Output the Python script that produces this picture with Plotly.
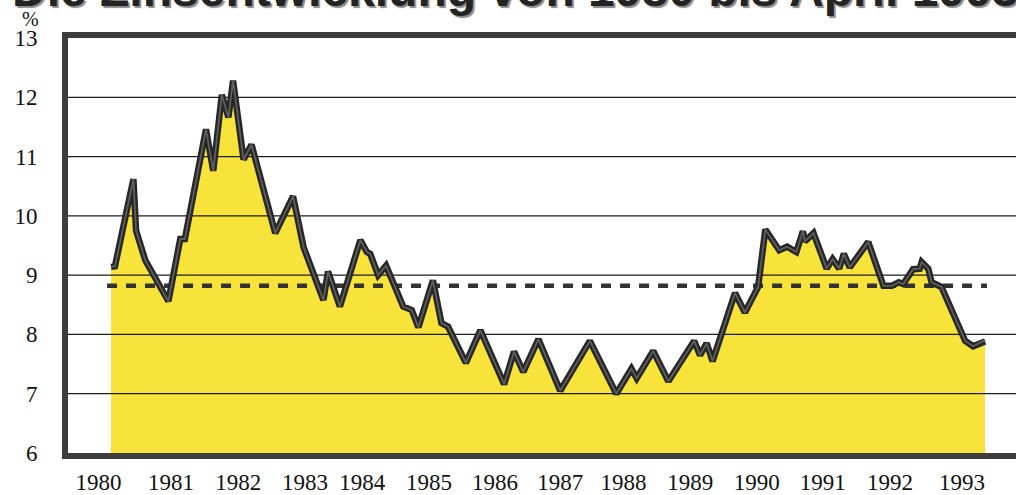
import plotly.graph_objects as go

# ---- data ----
dates = [1980.00, 1980.06, 1980.34, 1980.38, 1980.52, 1980.87, 1981.05, 1981.12, 1981.44, 1981.55,
         1981.68, 1981.78, 1981.85, 1982.01, 1982.13, 1982.49, 1982.76, 1982.92, 1983.22, 1983.29,
         1983.47, 1983.78, 1983.88, 1983.93, 1984.05, 1984.17, 1984.43, 1984.56, 1984.66, 1984.88,
         1985.01, 1985.11, 1985.38, 1985.60, 1985.96, 1986.11, 1986.25, 1986.48, 1986.81, 1987.26,
         1987.66, 1987.89, 1987.97, 1988.22, 1988.45, 1988.84, 1988.93, 1989.03, 1989.12, 1989.46,
         1989.61, 1989.81, 1989.92, 1990.13, 1990.25, 1990.39, 1990.49, 1990.52, 1990.65, 1990.85,
         1990.94, 1991.04, 1991.11, 1991.20, 1991.48, 1991.71, 1991.84, 1991.94, 1992.01, 1992.16,
         1992.26, 1992.29, 1992.39, 1992.44, 1992.59, 1992.95, 1993.07, 1993.24, 1993.25]
rates = [9.14, 9.15, 10.62, 9.75, 9.25, 8.56, 9.61, 9.61, 11.46, 10.76,
         12.04, 11.66, 12.28, 10.95, 11.20, 9.71, 10.33, 9.47, 8.58, 9.06,
         8.47, 9.59, 9.39, 9.36, 9.00, 9.16, 8.47, 8.41, 8.12, 8.91,
         8.19, 8.13, 7.52, 8.07, 7.16, 7.71, 7.37, 7.92, 7.05, 7.89,
         7.00, 7.42, 7.26, 7.72, 7.21, 7.89, 7.65, 7.85, 7.55, 8.70,
         8.37, 8.80, 9.77, 9.42, 9.48, 9.39, 9.74, 9.57, 9.71, 9.11,
         9.27, 9.11, 9.36, 9.13, 9.56, 8.82, 8.82, 8.88, 8.85, 9.10,
         9.11, 9.22, 9.11, 8.88, 8.80, 7.89, 7.80, 7.90, 7.88]

average_rate = 8.82
average_span = [1979.94, 1993.28]

year_labels = ["1980", "1981", "1982", "1983", "1984", "1985", "1986",
               "1987", "1988", "1989", "1990", "1991", "1992", "1993"]
year_label_pos = [1979.81, 1980.91, 1981.93, 1982.94, 1983.81, 1984.82, 1985.82,
                  1986.81, 1987.77, 1988.78, 1989.79, 1990.79, 1991.81, 1992.90]
y_ticks = [6, 7, 8, 9, 10, 11, 12, 13]

title_text = "Die Zinsentwicklung von 1980 bis April 1993"
unit_text = "%"

# ---- figure ----
X_RANGE = [1979.348, 1993.72]
Y_RANGE = [6, 13]
serif = "Liberation Serif, Times New Roman, serif"

fig = go.Figure()

# yellow area
fig.add_trace(go.Scatter(x=dates, y=rates, mode="lines", line=dict(width=0),
                         fill="tozeroy", fillcolor="#F8E33A", hoverinfo="skip"))

# horizontal rules (drawn above the fill)
for v in y_ticks[1:-1]:
    fig.add_trace(go.Scatter(x=X_RANGE, y=[v, v], mode="lines",
                             line=dict(color="#1c1c1c", width=1.3), hoverinfo="skip"))

# dashed average line
fig.add_trace(go.Scatter(x=average_span, y=[average_rate, average_rate], mode="lines",
                         line=dict(color="#333333", width=4.5, dash="10px,9px"),
                         hoverinfo="skip"))

# main line: dark outline with grey core
fig.add_trace(go.Scatter(x=dates, y=rates, mode="lines",
                         line=dict(color="#262626", width=6.5), hoverinfo="skip"))
fig.add_trace(go.Scatter(x=dates, y=rates, mode="lines",
                         line=dict(color="#5e5e5e", width=1.8), hoverinfo="skip"))

fig.update_layout(
    width=1016, height=495,
    margin=dict(l=68, r=0, t=38, b=35),
    paper_bgcolor="white", plot_bgcolor="white",
    showlegend=False,
    xaxis=dict(range=X_RANGE, tickvals=year_label_pos, ticktext=year_labels,
               showgrid=False, zeroline=False, showline=True, mirror=True,
               linecolor="#3d3d3d", linewidth=6, ticks="",
               tickfont=dict(family=serif, size=23, color="#111111"),
               ticklabelstandoff=3),
    yaxis=dict(range=Y_RANGE, tickvals=y_ticks, ticktext=[str(v) for v in y_ticks],
               showgrid=False, zeroline=False, showline=True, mirror=False,
               linecolor="#3d3d3d", linewidth=6, ticks="",
               tickfont=dict(family=serif, size=23, color="#111111"),
               ticklabelstandoff=20),
    annotations=[
        dict(text=title_text, xref="paper", yref="paper", x=-0.061, y=1.118,
             xanchor="left", yanchor="middle", showarrow=False,
             font=dict(family="Liberation Sans, Arial, sans-serif", size=48,
                       color="#232323", weight=700, shadow="2px 2px 1px #8a8a8a")),
        dict(text=unit_text, xref="paper", yref="paper", x=-0.040, y=1.045,
             xanchor="center", yanchor="middle", showarrow=False,
             font=dict(family=serif, size=20, color="#111111")),
    ],
)

fig.write_html("out.html")
